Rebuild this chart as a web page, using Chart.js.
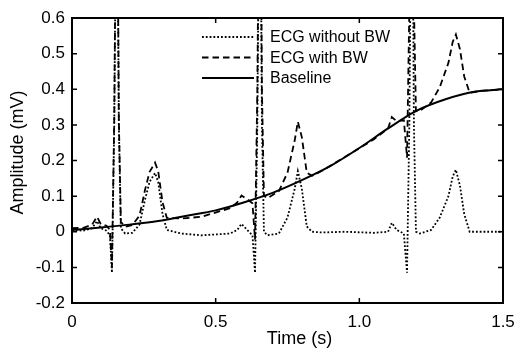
<!DOCTYPE html>
<html><head><meta charset="utf-8">
<script src="https://cdn.jsdelivr.net/npm/chart.js@4/dist/chart.umd.min.js"></script>
<style>html,body{margin:0;padding:0;background:#fff}#wrap{width:514px;height:349px}</style>
</head><body><div id="wrap"><canvas id="c" width="514" height="349"></canvas></div>
<script>
// Time samples (s) shared by the two ECG series
const time = [0.00,0.04,0.07,0.087,0.10,0.12,0.132,0.139,0.147,0.156,0.163,0.17,0.185,0.21,0.235,0.254,0.27,0.289,0.30,0.315,0.33,0.38,0.45,0.55,0.575,0.59,0.61,0.628,0.637,0.645,0.654,0.661,0.668,0.68,0.72,0.75,0.775,0.786,0.80,0.817,0.835,0.87,0.95,1.05,1.10,1.113,1.13,1.155,1.166,1.174,1.183,1.19,1.197,1.21,1.25,1.28,1.31,1.325,1.336,1.35,1.365,1.384,1.42,1.50];
// ECG without baseline wander (mV)
const ecgWithoutBW = [0.005,0.003,0.01,0.03,0.01,0.003,-0.01,-0.115,0.3,1.2,0.3,0.01,-0.005,-0.003,0.02,0.09,0.14,0.165,0.14,0.05,0.005,-0.005,-0.01,-0.005,0.005,0.022,0.005,-0.01,-0.115,0.3,1.2,0.3,0.0,-0.01,-0.005,0.04,0.12,0.17,0.12,0.015,0.0,-0.002,0.0,-0.003,0.0,0.025,0.005,-0.005,-0.115,0.3,1.2,0.3,0.0,-0.005,0.005,0.04,0.10,0.155,0.174,0.13,0.05,0.0,0.0,0.0];
// ECG with baseline wander (mV)
const ecgWithBW = [0.010,0.011,0.020,0.042,0.022,0.017,0.005,-0.100,0.316,1.217,0.317,0.028,0.014,0.019,0.045,0.117,0.168,0.194,0.170,0.083,0.039,0.037,0.042,0.066,0.082,0.102,0.091,0.080,-0.022,0.395,1.297,0.399,0.101,0.094,0.114,0.166,0.256,0.309,0.265,0.166,0.157,0.171,0.210,0.259,0.290,0.322,0.310,0.313,0.208,0.627,1.532,0.635,0.338,0.339,0.363,0.406,0.474,0.533,0.554,0.513,0.436,0.390,0.395,0.400];
// Baseline wander (mV)
const baselineTime = [0.0,0.1,0.2,0.3,0.4,0.5,0.6,0.7,0.8,0.9,1.0,1.1,1.2,1.3,1.4,1.5];
const baselineValues = [0.005,0.012,0.020,0.030,0.045,0.060,0.083,0.110,0.145,0.185,0.235,0.290,0.340,0.372,0.393,0.400];
const seriesLabels = ['ECG without BW','ECG with BW','Baseline'];
const xTickLabels = {0:'0',0.5:'0.5',1:'1.0',1.5:'1.5'};
const xTitle = 'Time (s)';
const yTitle = 'Amplitude (mV)';

const toXY = (xs, ys) => xs.map((x, i) => ({x, y: ys[i]}));
const FONT = 'Liberation Sans, Arial, Helvetica, sans-serif';

const framePlugin = {
  id: 'frame',
  afterDraw(chart) {
    const {ctx, chartArea: {left, right, top, bottom}, scales: {x, y}} = chart;
    ctx.save();
    ctx.strokeStyle = '#000';
    ctx.setLineDash([]);
    ctx.lineWidth = 1.5;
    const L = 5;
    ctx.beginPath();
    x.ticks.forEach(t => {
      const px = x.getPixelForValue(t.value);
      ctx.moveTo(px, bottom); ctx.lineTo(px, bottom - L);
      ctx.moveTo(px, top); ctx.lineTo(px, top + L);
    });
    y.ticks.forEach(t => {
      const py = y.getPixelForValue(t.value);
      ctx.moveTo(left, py); ctx.lineTo(left + L, py);
      ctx.moveTo(right, py); ctx.lineTo(right - L, py);
    });
    ctx.stroke();
    ctx.lineWidth = 2;
    ctx.strokeRect(left, top, right - left, bottom - top);
    // axis titles
    ctx.fillStyle = '#000';
    ctx.font = '18px ' + FONT;
    ctx.textAlign = 'center';
    ctx.textBaseline = 'middle';
    ctx.fillText(xTitle, (left + right) / 2 + 12, 339);
    ctx.save();
    ctx.translate(18, (top + bottom) / 2 - 8);
    ctx.rotate(-Math.PI / 2);
    ctx.fillText(yTitle, 0, 0);
    ctx.restore();
    // legend inside the plot area
    const lx0 = left + 130, lx1 = left + 182, tx = left + 198;
    chart.data.datasets.forEach((ds, i) => {
      const ly = top + 19 + i * 20.5;
      ctx.beginPath();
      ctx.setLineDash(ds.borderDash || []);
      ctx.lineWidth = ds.borderWidth;
      ctx.moveTo(lx0, ly); ctx.lineTo(lx1, ly);
      ctx.stroke();
      ctx.setLineDash([]);
      ctx.font = '16px ' + FONT;
      ctx.textBaseline = 'middle';
      ctx.textAlign = 'left';
      ctx.fillText(ds.label, tx, ly + 1);
    });
    ctx.restore();
  }
};

new Chart(document.getElementById('c'), {
  type: 'line',
  data: {
    datasets: [
      {label: seriesLabels[0], data: toXY(time, ecgWithoutBW), borderColor: '#000', borderWidth: 1.8, borderDash: [1.8, 2], pointRadius: 0, tension: 0, fill: false},
      {label: seriesLabels[1], data: toXY(time, ecgWithBW), borderColor: '#000', borderWidth: 1.8, borderDash: [6.5, 4], pointRadius: 0, tension: 0, fill: false},
      {label: seriesLabels[2], data: toXY(baselineTime, baselineValues), borderColor: '#000', borderWidth: 2, pointRadius: 0, cubicInterpolationMode: 'monotone', fill: false}
    ]
  },
  options: {
    responsive: false,
    animation: false,
    devicePixelRatio: 1,
    layout: {padding: {top: 18, right: 11, left: 0, bottom: 0}},
    plugins: {legend: {display: false}, tooltip: {enabled: false}},
    scales: {
      x: {
        type: 'linear', min: 0, max: 1.5,
        afterFit: s => { s.height = 46; s.paddingLeft = 0; s.paddingRight = 0; },
        grid: {display: false, drawTicks: false},
        border: {display: false},
        ticks: {stepSize: 0.5, padding: 9, color: '#000', font: {family: FONT, size: 17}, maxRotation: 0,
          callback: v => xTickLabels[v] !== undefined ? xTickLabels[v] : ''},
        title: {display: false}
      },
      y: {
        type: 'linear', min: -0.2, max: 0.6,
        afterFit: s => { s.width = 72; s.paddingTop = 0; s.paddingBottom = 0; },
        grid: {display: false, drawTicks: false},
        border: {display: false},
        ticks: {stepSize: 0.1, padding: 7, color: '#000', font: {family: FONT, size: 17},
          callback: v => Math.abs(v) < 1e-9 ? '0' : v.toFixed(1)},
        title: {display: false}
      }
    }
  },
  plugins: [framePlugin]
});
</script>
</body></html>
